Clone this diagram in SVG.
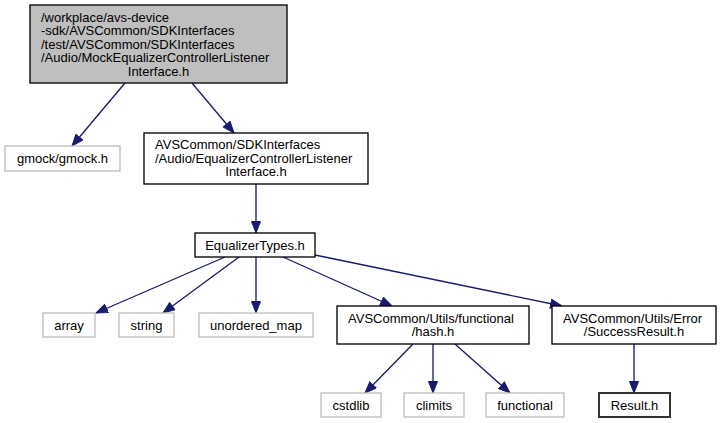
<svg xmlns="http://www.w3.org/2000/svg" width="722" height="423" viewBox="0 0 722 423">
<defs>
<style>
text{font-family:"Liberation Sans",Arial,Helvetica,sans-serif;font-size:13px;fill:#000}
.c{text-anchor:middle}
.doc{fill:#fff;stroke:#000;stroke-width:1.33}
.ext{fill:#fff;stroke:#bfbfbf;stroke-width:1.33}
.main{fill:#bfbfbf;stroke:#000;stroke-width:1.33}
.e{stroke:#191970;stroke-width:1.33;fill:none;marker-end:url(#ah)}
</style>
<marker id="ah" markerUnits="userSpaceOnUse" markerWidth="13" markerHeight="10" refX="12" refY="5" orient="auto">
<path d="M0.5,0.5 L12,5 L0.5,9.5 z" fill="#191970" stroke="#191970" stroke-width="1"/>
</marker>
</defs>
<rect width="722" height="423" fill="#fff"/>
<g id="edges">
<line class="e" x1="125" y1="83" x2="72" y2="146"/>
<line class="e" x1="192" y1="83" x2="234" y2="133"/>
<line class="e" x1="256" y1="184" x2="256" y2="233"/>
<line class="e" x1="225" y1="257" x2="96" y2="313"/>
<line class="e" x1="239" y1="257" x2="163" y2="313"/>
<line class="e" x1="256" y1="257" x2="256" y2="313"/>
<line class="e" x1="283" y1="257" x2="392" y2="306"/>
<line class="e" x1="315" y1="255" x2="562" y2="306"/>
<line class="e" x1="413" y1="344" x2="365" y2="393"/>
<line class="e" x1="433" y1="344" x2="433" y2="393"/>
<line class="e" x1="455" y1="344" x2="510" y2="393"/>
<line class="e" x1="634" y1="344" x2="634" y2="393"/>
</g>
<g id="node-main">
<rect class="main" x="30" y="5" width="257" height="78"/>
<text x="41" y="21.5">/workplace/avs-device</text>
<text x="41" y="35.1">-sdk/AVSCommon/SDKInterfaces</text>
<text x="41" y="48.7">/test/AVSCommon/SDKInterfaces</text>
<text x="41" y="62.3">/Audio/MockEqualizerControllerListener</text>
<text class="c" x="158.5" y="75.9">Interface.h</text>
</g>
<g id="node-gmock">
<rect class="ext" x="5" y="146" width="115" height="25"/>
<text class="c" x="62.5" y="163">gmock/gmock.h</text>
</g>
<g id="node-eqcl">
<rect class="doc" x="144" y="133" width="224" height="51"/>
<text x="155" y="149">AVSCommon/SDKInterfaces</text>
<text x="155" y="162.6">/Audio/EqualizerControllerListener</text>
<text class="c" x="256" y="176.2">Interface.h</text>
</g>
<g id="node-eqtypes">
<rect class="doc" x="195" y="233" width="120" height="24"/>
<text class="c" x="255" y="249.5">EqualizerTypes.h</text>
</g>
<g id="node-array">
<rect class="ext" x="43" y="313" width="52" height="24"/>
<text class="c" x="69" y="329.5">array</text>
</g>
<g id="node-string">
<rect class="ext" x="119" y="313" width="55" height="24"/>
<text class="c" x="146.5" y="329.5">string</text>
</g>
<g id="node-umap">
<rect class="ext" x="199" y="313" width="114" height="24"/>
<text class="c" x="256" y="329.5">unordered_map</text>
</g>
<g id="node-hash">
<rect class="doc" x="337" y="306" width="192" height="38"/>
<text x="348" y="322.5">AVSCommon/Utils/functional</text>
<text class="c" x="433" y="336.1">/hash.h</text>
</g>
<g id="node-success">
<rect class="doc" x="552" y="306" width="164" height="38"/>
<text x="563" y="322.5">AVSCommon/Utils/Error</text>
<text class="c" x="634" y="336.1">/SuccessResult.h</text>
</g>
<g id="node-cstdlib">
<rect class="ext" x="321" y="393" width="60" height="24"/>
<text class="c" x="351" y="409.5">cstdlib</text>
</g>
<g id="node-climits">
<rect class="ext" x="404" y="393" width="60" height="24"/>
<text class="c" x="434" y="409.5">climits</text>
</g>
<g id="node-functional">
<rect class="ext" x="486" y="393" width="78" height="24"/>
<text class="c" x="525" y="409.5">functional</text>
</g>
<g id="node-result">
<rect class="doc" x="599" y="393" width="71" height="24" style="stroke:#333;stroke-width:2"/>
<text class="c" x="634.5" y="409.5">Result.h</text>
</g>
</svg>
